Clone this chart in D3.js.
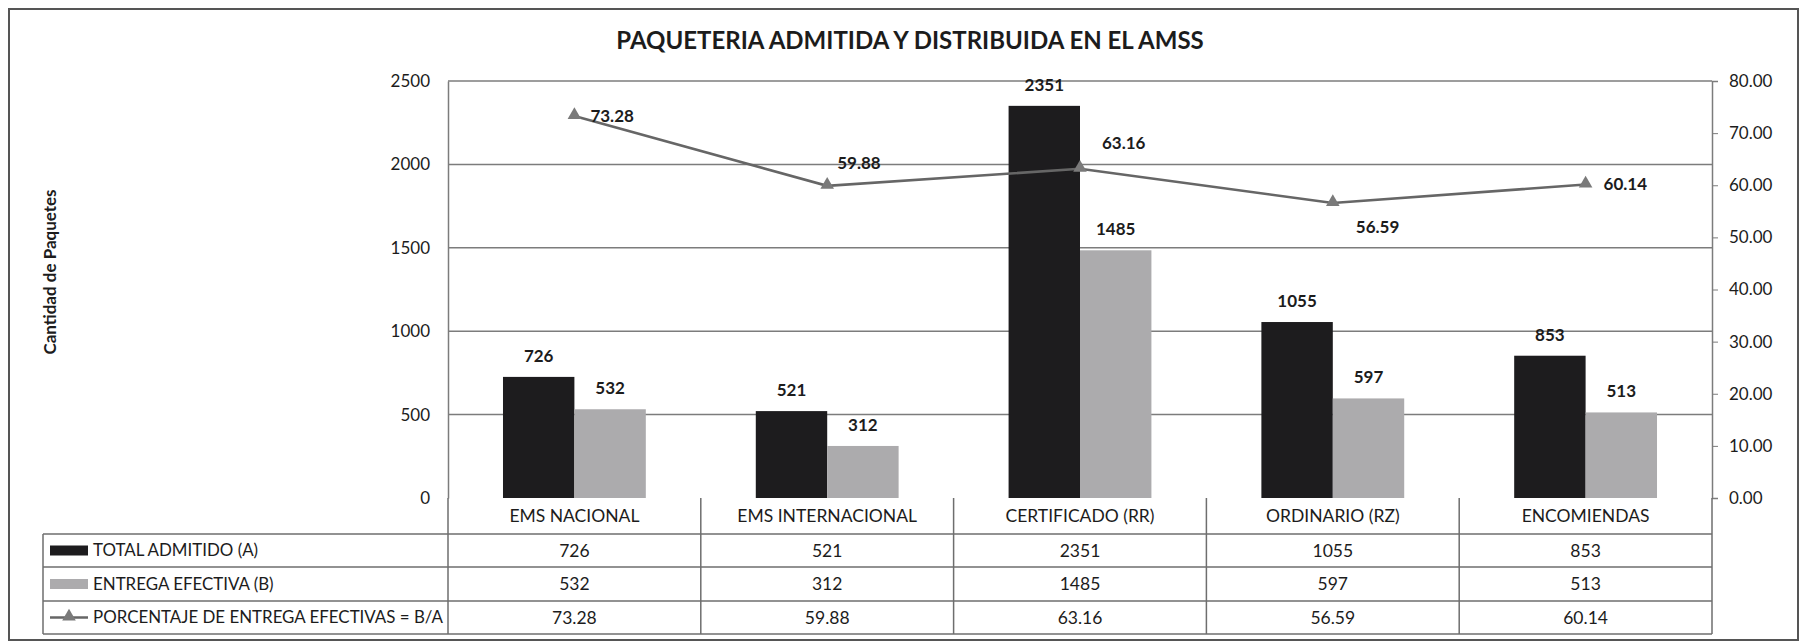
<!DOCTYPE html>
<html>
<head>
<meta charset="utf-8">
<script src="https://cdn.jsdelivr.net/npm/d3@7"></script>
<style>
  body { margin: 0; background: #fff; }
  text { font-family: Lato, "Open Sans", sans-serif; fill: #1c1c1c; }
</style>
</head>
<body>
<div id="chart"></div>
<script>
// Paqueteria admitida y distribuida - combo chart with data table

var categories = ["EMS NACIONAL", "EMS INTERNACIONAL", "CERTIFICADO (RR)", "ORDINARIO (RZ)", "ENCOMIENDAS"];
var totalAdmitido = [726, 521, 2351, 1055, 853];
var entregaEfectiva = [532, 312, 1485, 597, 513];
var porcentaje = [73.28, 59.88, 63.16, 56.59, 60.14];
var seriesNames = ["TOTAL ADMITIDO (A)", "ENTREGA EFECTIVA (B)", "PORCENTAJE DE ENTREGA EFECTIVAS = B/A"];
var leftTicks = [0, 500, 1000, 1500, 2000, 2500];
var rightTicks = [0, 10, 20, 30, 40, 50, 60, 70, 80];

// label offsets for the percentage labels (dx, dy from marker)
var pctLabelOffset = [[16, 0], [10, -23], [22, -26], [23, 24], [18, 0]];

var svgWidth = 1802, svgHeight = 643;
var plot = {left: 448, right: 1712, top: 81, bottom: 498};
var rowH = [36, 33, 34, 33];   // category row + 3 data rows
var tableLeft = 43;

var svg = d3.select("#chart").append("svg")
    .attr("width", svgWidth)
    .attr("height", svgHeight);

// outer frame
svg.append("rect")
    .attr("x", 9).attr("y", 9)
    .attr("width", 1789).attr("height", 631)
    .attr("fill", "none")
    .attr("stroke", "#555")
    .attr("stroke-width", 2);

// scales
var x0 = d3.scaleBand().domain(categories).range([plot.left, plot.right]);
var x1 = d3.scaleBand().domain([0, 1]).range([0, x0.bandwidth()]).paddingOuter(0.77);
var yLeft = d3.scaleLinear().domain([0, 2500]).range([plot.bottom, plot.top]);
var yRight = d3.scaleLinear().domain([0, 80]).range([plot.bottom, plot.top]);

// title
svg.append("text")
    .attr("x", 910).attr("y", 49)
    .attr("text-anchor", "middle")
    .style("font-size", "24px")
    .style("font-weight", "bold")
    .text("PAQUETERIA ADMITIDA Y DISTRIBUIDA EN EL AMSS");

// gridlines
svg.append("g").selectAll("line")
    .data(leftTicks.slice(1))
  .enter().append("line")
    .attr("x1", plot.left).attr("x2", plot.right)
    .attr("y1", function(d) { return yLeft(d); })
    .attr("y2", function(d) { return yLeft(d); })
    .attr("stroke", "#7c7c7c")
    .attr("stroke-width", 1.5);

// left axis
var leftAxis = d3.axisLeft(yLeft).tickValues(leftTicks).tickSize(0).tickPadding(18)
    .tickFormat(d3.format("d"));
var gl = svg.append("g")
    .attr("transform", "translate(" + plot.left + ",0)")
    .call(leftAxis);
gl.select(".domain").attr("stroke", "#7c7c7c").attr("stroke-width", 1.5);
gl.selectAll("text").style("font-size", "17px").style("font-family", "Lato, sans-serif").attr("fill", "#1c1c1c");

// right axis
var rightAxis = d3.axisRight(yRight).tickValues(rightTicks).tickSize(6).tickPadding(11)
    .tickFormat(d3.format(".2f"));
var gr = svg.append("g")
    .attr("transform", "translate(" + plot.right + ",0)")
    .call(rightAxis);
gr.select(".domain").attr("stroke", "#7c7c7c").attr("stroke-width", 1.5);
gr.selectAll("line").attr("stroke", "#7c7c7c");
gr.selectAll("text").style("font-size", "17px").style("font-family", "Lato, sans-serif").attr("fill", "#1c1c1c");

// y-axis title
svg.append("text")
    .attr("transform", "translate(56,272) rotate(-90)")
    .attr("text-anchor", "middle")
    .style("font-size", "17px")
    .style("font-weight", "bold")
    .text("Cantidad de Paquetes");

// bars
var barColors = ["#1d1c1e", "#acabad"];
var barData = [];
categories.forEach(function(c, i) {
  barData.push({cat: c, s: 0, v: totalAdmitido[i]});
  barData.push({cat: c, s: 1, v: entregaEfectiva[i]});
});

svg.append("g").selectAll("rect")
    .data(barData)
  .enter().append("rect")
    .attr("x", function(d) { return x0(d.cat) + x1(d.s); })
    .attr("y", function(d) { return yLeft(d.v); })
    .attr("width", x1.bandwidth())
    .attr("height", function(d) { return plot.bottom - yLeft(d.v); })
    .attr("fill", function(d) { return barColors[d.s]; });

svg.append("g").selectAll("text")
    .data(barData)
  .enter().append("text")
    .attr("x", function(d) { return x0(d.cat) + x1(d.s) + x1.bandwidth() / 2; })
    .attr("y", function(d) { return yLeft(d.v) - 15; })
    .attr("text-anchor", "middle")
    .style("font-size", "17px")
    .style("font-weight", "bold")
    .text(function(d) { return d.v; });

// percentage line
var cx = function(d, i) { return x0(categories[i]) + x0.bandwidth() / 2; };
var line = d3.line()
    .x(cx)
    .y(function(d) { return yRight(d); });

svg.append("path")
    .datum(porcentaje)
    .attr("d", line)
    .attr("fill", "none")
    .attr("stroke", "#666")
    .attr("stroke-width", 2.6);

var tri = d3.symbol().type(d3.symbolTriangle).size(80);
svg.append("g").selectAll("path")
    .data(porcentaje)
  .enter().append("path")
    .attr("d", tri)
    .attr("transform", function(d, i) { return "translate(" + cx(d, i) + "," + (yRight(d) - 1) + ")"; })
    .attr("fill", "#7a7a7a");

svg.append("g").selectAll("text")
    .data(porcentaje)
  .enter().append("text")
    .attr("x", function(d, i) { return cx(d, i) + pctLabelOffset[i][0]; })
    .attr("y", function(d, i) { return yRight(d) + pctLabelOffset[i][1]; })
    .attr("dy", "0.35em")
    .style("font-size", "17px")
    .style("font-weight", "bold")
    .text(function(d) { return d3.format(".2f")(d); });

// data table
var gridColor = "#6e6e6e";
var tbl = svg.append("g");
var rowY = [plot.bottom];
rowH.forEach(function(h) { rowY.push(rowY[rowY.length - 1] + h); });

// horizontal lines
rowY.slice(1).forEach(function(y) {
  tbl.append("line")
      .attr("x1", tableLeft).attr("x2", plot.right)
      .attr("y1", y).attr("y2", y)
      .attr("stroke", gridColor).attr("stroke-width", 1.5);
});
// verticals between categories
var bounds = categories.map(function(c) { return x0(c); }).concat([plot.right]);
bounds.forEach(function(xv) {
  tbl.append("line")
      .attr("x1", xv).attr("x2", xv)
      .attr("y1", plot.bottom).attr("y2", rowY[4])
      .attr("stroke", gridColor).attr("stroke-width", 1.5);
});
tbl.append("line")
    .attr("x1", tableLeft).attr("x2", tableLeft)
    .attr("y1", rowY[1]).attr("y2", rowY[4])
    .attr("stroke", gridColor).attr("stroke-width", 1.5);

// category labels
tbl.selectAll(".cat")
    .data(categories)
  .enter().append("text")
    .attr("class", "cat")
    .attr("x", function(d) { return x0(d) + x0.bandwidth() / 2; })
    .attr("y", (rowY[0] + rowY[1]) / 2)
    .attr("dy", "0.35em")
    .attr("text-anchor", "middle")
    .style("font-size", "17.5px")
    .text(function(d) { return d; });

// value rows
var tableRows = [
  totalAdmitido.map(String),
  entregaEfectiva.map(String),
  porcentaje.map(d3.format(".2f"))
];
tableRows.forEach(function(vals, r) {
  var yc = (rowY[r + 1] + rowY[r + 2]) / 2;
  tbl.append("g").selectAll("text")
      .data(vals)
    .enter().append("text")
      .attr("x", function(d, i) { return x0(categories[i]) + x0.bandwidth() / 2; })
      .attr("y", yc)
      .attr("dy", "0.35em")
      .attr("text-anchor", "middle")
      .style("font-size", "17.5px")
      .text(function(d) { return d; });

  // legend label
  tbl.append("text")
      .attr("x", 93)
      .attr("y", yc)
      .attr("dy", "0.35em")
      .style("font-size", "16.9px")
      .text(seriesNames[r]);

  // legend key
  if (r < 2) {
    tbl.append("rect")
        .attr("x", 50).attr("y", yc - 5)
        .attr("width", 38).attr("height", 10)
        .attr("fill", barColors[r]);
  } else {
    tbl.append("line")
        .attr("x1", 50).attr("x2", 88)
        .attr("y1", yc).attr("y2", yc)
        .attr("stroke", "#666").attr("stroke-width", 2.6);
    tbl.append("path")
        .attr("d", tri)
        .attr("transform", "translate(69," + (yc - 1) + ")")
        .attr("fill", "#7a7a7a");
  }
});
</script>
</body>
</html>
